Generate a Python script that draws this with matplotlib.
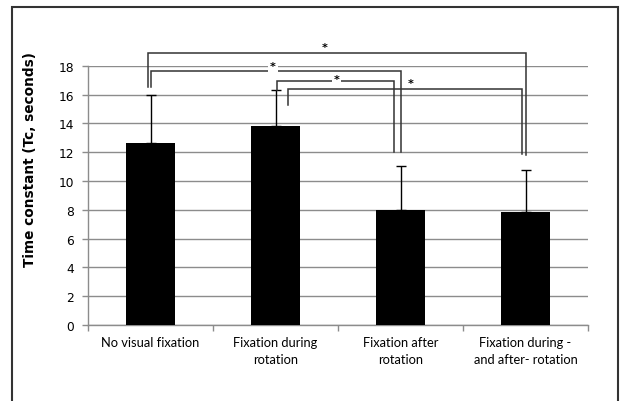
import matplotlib
matplotlib.use("Agg")
import matplotlib.pyplot as plt
from matplotlib.patches import Rectangle

categories = ["No visual fixation", "Fixation during\nrotation",
              "Fixation after\nrotation", "Fixation during -\nand after- rotation"]
means = [12.64, 13.84, 7.99, 7.83]
sd_upper = [3.36, 2.50, 3.03, 2.93]
y_ticks = [0, 2, 4, 6, 8, 10, 12, 14, 16, 18]

# brackets: x_left, x_right, y_top, y_left_bottom, y_right_bottom, star_x, star_y, star_bg
brackets = [
    (-0.02, 3.00, 18.87, 16.5, 11.8, 1.39, 19.28, False),
    (0.00, 2.00, 17.60, 16.5, 12.0, 0.98, 17.97, True),
    (1.01, 1.95, 16.96, 16.3, 12.0, 1.49, 17.05, True),
    (1.10, 2.97, 16.39, 15.3, 11.9, 2.08, 16.78, False),
]

fig = plt.figure(figsize=(6.24, 4.02), dpi=100)
ax = fig.add_axes([88/624, 1-326/402, 500/624, (326-66.7)/402])

x = list(range(len(categories)))
ax.bar(x, means, width=0.39, color="black", zorder=3)
ax.errorbar(x, means, yerr=[[0]*4, sd_upper], fmt="none", ecolor="black",
            elinewidth=1.0, capsize=3.5, capthick=1.0, zorder=4)

ax.set_xlim(-0.5, 3.5)
ax.set_ylim(0, 18)
ax.set_yticks(y_ticks)
ax.set_yticklabels([str(v) for v in y_ticks], fontsize=8.8, family="DejaVu Sans")
ax.yaxis.grid(True, color="#8c8c8c", linewidth=1.0, zorder=0)
ax.set_axisbelow(True)
ax.tick_params(axis="y", length=4, width=1, color="#8c8c8c", pad=6)

ax.set_xticks(x)
ax.set_xticklabels(categories, fontsize=9.3, family="Lato", linespacing=1.45)
ax.set_xticks([-0.5, 0.5, 1.5, 2.5, 3.5], minor=True)
ax.tick_params(axis="x", which="major", length=0, pad=8)
ax.tick_params(axis="x", which="minor", length=4, width=1, color="#8c8c8c")

for s in ["top", "right"]:
    ax.spines[s].set_visible(False)
for s in ["left", "bottom"]:
    ax.spines[s].set_color("#8c8c8c")
    ax.spines[s].set_linewidth(1.0)

ax.set_ylabel("Time constant (Tc, seconds)", fontsize=9.8, fontweight="bold",
              family="DejaVu Sans")
ax.yaxis.set_label_coords((37-88)/500, 0.64)

bc = "#333333"
for xl, xr, yt, ylb, yrb, sx, sy, bg in brackets:
    ax.plot([xl, xl, xr, xr], [ylb, yt, yt, yrb], color=bc, lw=1.1,
            clip_on=False, zorder=6, solid_joinstyle="miter")
    kw = {}
    if bg:
        kw["bbox"] = dict(facecolor="white", edgecolor="none", pad=1.2)
    ax.text(sx, sy, "*", ha="center", va="center", fontsize=8, fontweight="bold",
            color="black", clip_on=False, zorder=7, family="DejaVu Sans", **kw)

fig.patches.append(Rectangle((12/624, -0.05), (618-12)/624, (402-8)/402 + 0.05,
                             transform=fig.transFigure, fill=False,
                             edgecolor="#333333", linewidth=1.5))

fig.savefig("out.png", dpi=100, facecolor="white")
